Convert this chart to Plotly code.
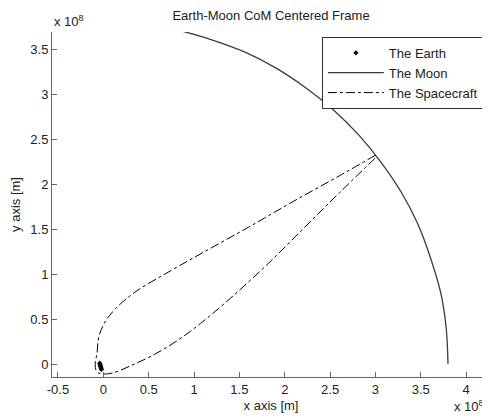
import plotly.graph_objects as go

# Values in units of 1e8 m
earth_x = [-0.040, -0.036, -0.033, -0.030, -0.027, -0.024, -0.021]
earth_y = [0.010, -0.003, -0.015, -0.027, -0.039, -0.050, -0.060]

moon_x = [3.80, 3.78, 3.72, 3.61, 3.47, 3.29, 3.07, 2.82, 2.54, 2.23, 1.90, 1.55, 1.17, 0.79]
moon_y = [0.00, 0.40, 0.79, 1.17, 1.55, 1.90, 2.23, 2.54, 2.82, 3.07, 3.29, 3.47, 3.61, 3.72]

sc_x = [3.00, 2.60, 2.10, 1.60, 1.10, 0.68, 0.35, 0.15, 0.02, -0.05, -0.07, -0.09, -0.08,
        -0.05, -0.01, 0.10, 0.30, 0.55, 0.80, 1.07, 1.40, 1.80, 2.20, 2.60, 3.00]
sc_y = [2.32, 2.09, 1.81, 1.52, 1.24, 1.00, 0.80, 0.63, 0.47, 0.30, 0.12, 0.00, -0.07,
        -0.10, -0.11, -0.10, -0.02, 0.10, 0.25, 0.45, 0.73, 1.10, 1.50, 1.90, 2.29]

x_ticks = [-0.5, 0, 0.5, 1, 1.5, 2, 2.5, 3, 3.5, 4]
x_labels = ["-0.5", "0", "0.5", "1", "1.5", "2", "2.5", "3", "3.5", "4"]
y_ticks = [0, 0.5, 1, 1.5, 2, 2.5, 3, 3.5]
y_labels = ["0", "0.5", "1", "1.5", "2", "2.5", "3", "3.5"]

FONT = "Liberation Sans, Arial, sans-serif"
TXT = "#222222"
AX = "#666666"

# the page adds an 8px body margin, so the figure is 8px smaller and shifted
W, H = 482, 410

fig = go.Figure()
fig.add_trace(go.Scatter(x=earth_x, y=earth_y, mode="markers", name="The Earth",
                         marker=dict(symbol="diamond", size=4, color="black")))
fig.add_trace(go.Scatter(x=moon_x, y=moon_y, mode="lines", name="The Moon",
                         line=dict(color="#3a3a3a", width=1.3, shape="spline")))
fig.add_trace(go.Scatter(x=sc_x, y=sc_y, mode="lines", name="The Spacecraft",
                         line=dict(color="black", width=1, dash="dashdot", shape="spline", smoothing=1.0)))

fig.update_layout(
    width=W, height=H,
    margin=dict(l=44, r=0, t=24, b=41),
    paper_bgcolor="white", plot_bgcolor="white",
    font=dict(family=FONT, size=13, color=TXT),
    title=dict(text="Earth-Moon CoM Centered Frame", x=263 / W, xanchor="center",
               y=1 - 7 / H, yanchor="middle", font=dict(size=13, color=TXT)),
    showlegend=True,
    legend=dict(x=0.986, y=0.986, xanchor="right", yanchor="top",
                bgcolor="white", bordercolor="#333333", borderwidth=1, itemwidth=56,
                font=dict(size=13, color=TXT), tracegroupgap=0),
    xaxis=dict(range=[-0.566, 4.263], tickvals=x_ticks, ticktext=x_labels,
               ticks="inside", ticklen=5, tickcolor=AX, showline=True, linecolor=AX, linewidth=1,
               showgrid=False, zeroline=False, mirror=False,
               title=dict(text="x axis [m]", standoff=5, font=dict(size=13, color=TXT)),
               tickfont=dict(size=13, color=TXT)),
    yaxis=dict(range=[-0.144, 3.689], tickvals=y_ticks, ticktext=y_labels,
               ticks="inside", ticklen=5, tickcolor=AX, showline=True, linecolor=AX, linewidth=1,
               showgrid=False, zeroline=False, mirror=False,
               title=dict(text="y axis [m]", standoff=8, font=dict(size=13, color=TXT)),
               tickfont=dict(size=13, color=TXT)),
    annotations=[
        dict(text="x 10<sup>8</sup>", xref="paper", yref="paper", x=0.0, y=1.0,
             xanchor="left", yanchor="bottom", yshift=1, showarrow=False, font=dict(size=13, color=TXT)),
        dict(text="x 10<sup>8</sup>", xref="paper", yref="paper", x=1.0, y=0.0,
             xanchor="right", yanchor="top", xshift=-4, yshift=-19, showarrow=False,
             font=dict(size=13, color=TXT)),
    ],
)

fig.write_html("out.html")
